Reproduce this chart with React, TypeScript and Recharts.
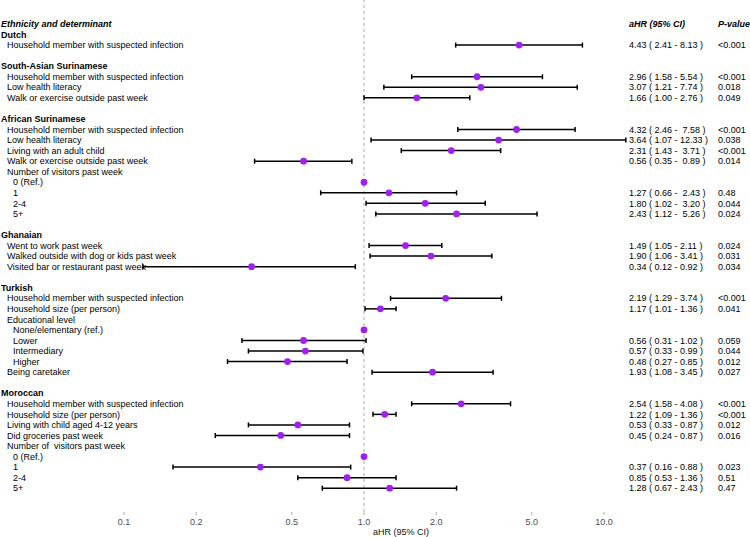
import { ScatterChart, Scatter, XAxis, YAxis, ErrorBar, ReferenceLine, Label } from "recharts";

// one entry per row of the forest plot, top to bottom ("" = spacer row)
const rowLabels = [
  "Ethnicity and determinant",
  "Dutch",
  "Household member with suspected infection",
  "",
  "South-Asian Surinamese",
  "Household member with suspected infection",
  "Low health literacy",
  "Walk or exercise outside past week",
  "",
  "African Surinamese",
  "Household member with suspected infection",
  "Low health literacy",
  "Living with an adult child",
  "Walk or exercise outside past week",
  "Number of visitors past week",
  "0 (Ref.)",
  "1",
  "2-4",
  "5+",
  "",
  "Ghanaian",
  "Went to work past week",
  "Walked outside with dog or kids past week",
  "Visited bar or restaurant past week",
  "",
  "Turkish",
  "Household member with suspected infection",
  "Household size (per person)",
  "Educational level",
  "None/elementary (ref.)",
  "Lower",
  "Intermediary",
  "Higher",
  "Being caretaker",
  "",
  "Moroccan",
  "Household member with suspected infection",
  "Household size (per person)",
  "Living with child aged 4-12 years",
  "Did groceries past week",
  "Number of  visitors past week",
  "0 (Ref.)",
  "1",
  "2-4",
  "5+",
];

// -1 column header, 0 ethnic group, 1 determinant, 2 sub-category
const rowLevels = [
  -1, 0, 1, 1,
  0, 1, 1, 1, 1,
  0, 1, 1, 1, 1, 1, 2, 2, 2, 2, 1,
  0, 1, 1, 1, 1,
  0, 1, 1, 1, 2, 2, 2, 2, 1, 1,
  0, 1, 1, 1, 1, 1, 2, 2, 2, 2,
];

const n = null;
const estimates = [
  n, n, 4.43, n,
  n, 2.96, 3.07, 1.66, n,
  n, 4.32, 3.64, 2.31, 0.56, n, 1, 1.27, 1.8, 2.43, n,
  n, 1.49, 1.9, 0.34, n,
  n, 2.19, 1.17, n, 1, 0.56, 0.57, 0.48, 1.93, n,
  n, 2.54, 1.22, 0.53, 0.45, n, 1, 0.37, 0.85, 1.28,
];
const lowerCI = [
  n, n, 2.41, n,
  n, 1.58, 1.21, 1.0, n,
  n, 2.46, 1.07, 1.43, 0.35, n, n, 0.66, 1.02, 1.12, n,
  n, 1.05, 1.06, 0.12, n,
  n, 1.29, 1.01, n, n, 0.31, 0.33, 0.27, 1.08, n,
  n, 1.58, 1.09, 0.33, 0.24, n, n, 0.16, 0.53, 0.67,
];
const upperCI = [
  n, n, 8.13, n,
  n, 5.54, 7.74, 2.76, n,
  n, 7.58, 12.33, 3.71, 0.89, n, n, 2.43, 3.2, 5.26, n,
  n, 2.11, 3.41, 0.92, n,
  n, 3.74, 1.36, n, n, 1.02, 0.99, 0.85, 3.45, n,
  n, 4.08, 1.36, 0.87, 0.87, n, n, 0.88, 1.36, 2.43,
];

const aHRLabels = [
  "aHR (95% CI)", "", "4.43 ( 2.41 - 8.13 )", "",
  "", "2.96 ( 1.58 - 5.54 )", "3.07 ( 1.21 - 7.74 )", "1.66 ( 1.00 - 2.76 )", "",
  "", "4.32 ( 2.46 -  7.58 )", "3.64 ( 1.07 - 12.33 )", "2.31 ( 1.43 -  3.71 )", "0.56 ( 0.35 -  0.89 )", "", "",
  "1.27 ( 0.66 -  2.43 )", "1.80 ( 1.02 -  3.20 )", "2.43 ( 1.12 -  5.26 )", "",
  "", "1.49 ( 1.05 - 2.11 )", "1.90 ( 1.06 - 3.41 )", "0.34 ( 0.12 - 0.92 )", "",
  "", "2.19 ( 1.29 - 3.74 )", "1.17 ( 1.01 - 1.36 )", "", "",
  "0.56 ( 0.31 - 1.02 )", "0.57 ( 0.33 - 0.99 )", "0.48 ( 0.27 - 0.85 )", "1.93 ( 1.08 - 3.45 )", "",
  "", "2.54 ( 1.58 - 4.08 )", "1.22 ( 1.09 - 1.36 )", "0.53 ( 0.33 - 0.87 )", "0.45 ( 0.24 - 0.87 )", "", "",
  "0.37 ( 0.16 - 0.88 )", "0.85 ( 0.53 - 1.36 )", "1.28 ( 0.67 - 2.43 )",
];
const pValues = [
  "P-value", "", "<0.001", "",
  "", "<0.001", "0.018", "0.049", "",
  "", "<0.001", "0.038", "<0.001", "0.014", "", "", "0.48", "0.044", "0.024", "",
  "", "0.024", "0.031", "0.034", "",
  "", "<0.001", "0.041", "", "", "0.059", "0.044", "0.012", "0.027", "",
  "", "<0.001", "<0.001", "0.012", "0.016", "", "", "0.023", "0.51", "0.47",
];

const xTicks = [0.1, 0.2, 0.5, 1, 2, 5, 10];

const FONT = "'Liberation Sans', Arial, Helvetica, sans-serif";

const points = rowLabels
  .map((_, i) => ({
    row: i,
    est: estimates[i],
    err: lowerCI[i] != null && estimates[i] != null
      ? [estimates[i]! - lowerCI[i]!, upperCI[i]! - estimates[i]!]
      : undefined,
  }))
  .filter((d) => d.est != null);

const RowTick = ({ y, payload }: any) => {
  const i = payload.value;
  const level = rowLevels[i];
  const header = level < 0;
  const common = {
    y,
    dy: "0.35em",
    fontSize: 9,
    fontFamily: FONT,
    fill: "#000",
    style: { whiteSpace: "pre" as const },
  };
  return (
    <g>
      <text
        {...common}
        x={1 + Math.max(level, 0) * 6}
        fontWeight={level <= 0 ? "bold" : "normal"}
        fontStyle={header ? "italic" : "normal"}
      >
        {rowLabels[i]}
      </text>
      <text {...common} x={629} fontWeight={header ? "bold" : "normal"} fontStyle={header ? "italic" : "normal"}>
        {aHRLabels[i]}
      </text>
      <text {...common} x={718} fontWeight={header ? "bold" : "normal"} fontStyle={header ? "italic" : "normal"}>
        {pValues[i]}
      </text>
    </g>
  );
};

const Dot = (props: any) => <circle cx={props.cx} cy={props.cy} r={3.4} fill="#A020F0" />;

export default function App() {
  return (
    <div style={{ position: "absolute", left: 0, top: 0, background: "#fff" }}>
      <ScatterChart width={750} height={537} margin={{ top: 0, right: 122, bottom: 0, left: 0 }}>
        <XAxis
          dataKey="est"
          type="number"
          scale="log"
          domain={[0.1, 12.59]}
          allowDataOverflow
          ticks={xTicks}
          tickFormatter={(v: number) => v.toFixed(1)}
          height={25}
          axisLine={false}
          tickLine={{ stroke: "#aaa" }}
          tickSize={3}
          tickMargin={4}
          tick={{ fontSize: 9, fill: "#4d4d4d", fontFamily: FONT }}
        >
          <Label
            value="aHR (95% CI)"
            position="insideBottom"
            offset={2}
            dx={25}
            fontSize={9}
            fill="#111"
            fontFamily={FONT}
          />
        </XAxis>
        <YAxis
          dataKey="row"
          type="number"
          reversed
          domain={[-2.275, 46.255]}
          allowDataOverflow
          ticks={rowLabels.map((_, i) => i)}
          interval={0}
          width={124}
          axisLine={false}
          tickLine={false}
          tick={<RowTick />}
        />
        <ReferenceLine x={1} stroke="#aaa" strokeDasharray="3 3" />
        <Scatter data={points} shape={<Dot />} isAnimationActive={false}>
          <ErrorBar dataKey="err" direction="x" width={2.5} stroke="#000" strokeWidth={1.5} />
        </Scatter>
      </ScatterChart>
    </div>
  );
}
